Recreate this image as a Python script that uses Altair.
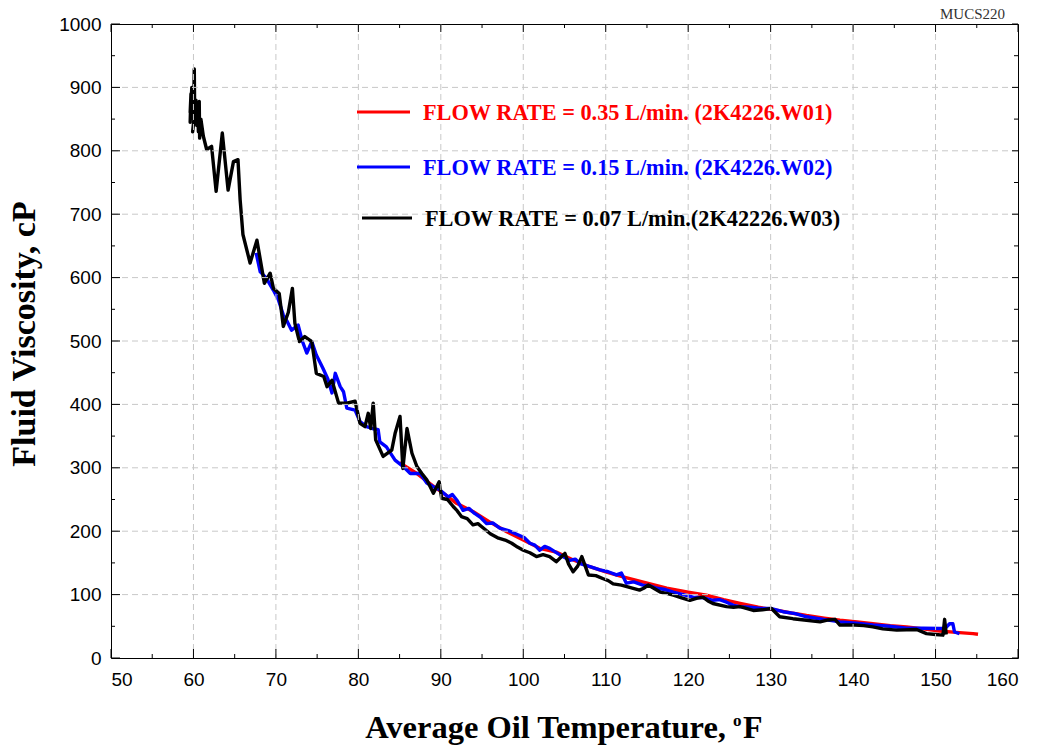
import altair as alt
import pandas as pd

# Viscosity vs. average oil temperature for three flow rates
red_T = [85.0, 87.0, 89.0, 90.5, 91.9, 93.9, 96.0, 98.0, 100.0, 102.0, 104.0, 106.0, 108.05,
         110.0, 112.1, 114.8, 117.4, 120.0, 122.2, 124.3, 126.3, 128.5, 130.5, 132.5, 134.35,
         136.5, 138.4, 140.5, 142.4, 144.5, 146.5, 148.5, 150.5, 152.5, 154.55, 155.15]
red_V = [308, 292, 272, 258, 244, 231, 214, 199, 186, 173, 167, 155, 144,
         136, 128, 119, 110, 104, 99, 92, 86, 80, 76, 71, 67,
         63, 59.5, 57, 54, 51, 49, 46, 42.6, 40.5, 38.5, 37.4]

blue_T = [67.6, 68.1, 68.8, 69.7, 70.3, 70.9, 71.4, 71.9, 72.7, 73.2, 73.75, 74.35, 74.9, 75.4,
          75.7, 76.3, 76.8, 77.2, 77.8, 78.2, 78.6, 79.6, 80.2, 81.0, 81.7, 82.4, 82.6, 83.4,
          84.45, 85.45, 86.3, 87.5, 88.3, 89.1, 89.9, 90.9, 91.4, 92.0, 92.7, 93.4, 94.1, 94.8,
          95.55, 96.3, 97.15, 98.2, 99.4, 100.1, 100.8, 101.4, 102.0, 102.6, 103.2, 104.4,
          105.65, 106.3, 106.9, 108.1, 109.3, 110.3, 111.3, 111.9, 112.5, 113.4, 114.5, 115.3,
          116.2, 117.2, 118.2, 119.4, 120.6, 121.8, 123.0, 123.8, 124.65, 125.5, 126.3, 127.5,
          128.8, 130.1, 131.5, 133.0, 134.35, 136.4, 138.4, 140.4, 142.4, 144.4, 146.5, 148.5,
          150.5, 151.2, 151.7, 152.1, 152.3, 152.9]
blue_V = [639, 609, 600, 580, 565, 541, 530, 517, 525, 500, 481, 499, 478, 465,
          457, 440, 418, 449, 428, 420, 394, 391, 373, 365, 362, 360, 341, 333,
          312, 302, 291, 291, 276, 270, 265, 254, 258, 248, 233, 236, 228, 222,
          212, 213, 205, 201, 194, 190, 181, 178, 170, 176, 173, 163,
          154, 156, 149, 144, 139, 136, 131, 134, 118, 120, 115, 114,
          110, 108, 104, 100, 96, 95, 91, 92, 88, 83, 81, 80,
          78, 78, 73, 70, 65, 61, 57, 55, 52, 50, 47, 47,
          46.5, 47, 54, 54, 41, 38.5]

black_T = [59.6, 59.7, 59.6, 59.8, 60.0, 60.1, 60.15, 59.9, 60.3, 60.4, 60.5, 60.6, 60.7, 60.75,
           60.9, 61.2, 61.6, 62.2, 62.75, 63.5, 64.2, 64.85, 65.4, 65.66, 66.0, 66.87, 67.7,
           68.6, 69.3, 69.7, 70.4, 70.9, 71.5, 72.0, 72.3, 72.85, 73.5, 74.35, 74.9, 75.8,
           76.2, 76.8, 77.6, 78.6, 79.6, 80.2, 80.8, 81.2, 81.5, 81.8, 82.1, 83.0, 84.05,
           84.45, 85.05, 85.4, 85.9, 86.5, 87.1, 87.7, 88.3, 89.1, 89.8, 90.1, 90.8, 91.5,
           92.0, 92.5, 93.2, 93.9, 94.5, 95.15, 96.0, 97.0, 97.8, 98.6, 99.3, 100.0, 100.8,
           101.6, 102.4, 103.2, 104.0, 104.5, 105.05, 105.5, 106.05, 106.6, 107.1, 107.9,
           108.8, 109.7, 110.3, 110.9, 111.9, 113.0, 114.1, 114.6, 115.15, 116.6, 117.4,
           118.2, 119.2, 120.2, 121.0, 121.8, 122.4, 123.0, 124.65, 125.5, 126.3, 127.9,
           129.0, 130.1, 131.1, 132.7, 134.35, 136.0, 137.0, 137.8, 138.4, 140.2, 141.3,
           142.4, 143.6, 145.3, 147.7, 148.9, 150.0, 150.9, 151.1, 151.3]
black_V = [860, 890, 845, 900, 850, 929, 860, 830, 880, 840, 875, 830, 878, 820,
           850, 823, 802, 807, 736, 828, 738, 783, 786, 723, 668, 623, 659,
           591, 607, 583, 575, 523, 545, 583, 528, 499, 507, 499, 449, 444,
           428, 438, 402, 402, 405, 370, 365, 386, 362, 402, 344, 318, 328,
           354, 381, 299, 362, 323, 302, 291, 281, 260, 278, 252, 250, 239,
           232, 223, 220, 210, 212, 205, 196, 189, 186, 181, 175, 170, 166,
           160, 163, 160, 152, 158, 165, 148, 136, 145, 160, 131,
           130, 125, 122, 117, 115, 111, 107, 110, 115, 104, 102,
           99, 95, 91, 94, 96, 90, 86, 81, 80, 81, 75,
           76, 78, 65, 62, 59.5, 57, 60, 61, 52, 52, 51,
           49, 46, 44, 45, 38.5, 37, 36, 61, 37]

series_names = ["0.35", "0.15", "0.07"]
series_colors = ["#ff0000", "#0000ff", "#000000"]
legend_labels = [
    "FLOW RATE = 0.35 L/min. (2K4226.W01)",
    "FLOW RATE = 0.15 L/min. (2K4226.W02)",
    "FLOW RATE = 0.07 L/min.(2K42226.W03)",
]

x_major = list(range(50, 161, 10))
x_minor = list(range(55, 160, 10))
y_major = list(range(0, 1001, 100))
y_minor = list(range(50, 1000, 100))
x_grid = list(range(60, 151, 10))
y_grid = list(range(100, 901, 100))

W, H = 907, 634
SERIF = "Liberation Serif"
SANS = "Liberation Sans"

frames = []
for name, T, V in zip(series_names, [red_T, blue_T, black_T], [red_V, blue_V, black_V]):
    frames.append(pd.DataFrame({"T": T, "V": V, "s": name, "i": range(len(T))}))
curves = pd.concat(frames, ignore_index=True)

xs = alt.Scale(domain=[50, 160], nice=False, zero=False)
ys = alt.Scale(domain=[0, 1000], nice=False, zero=False)

# One shared axis definition per direction, used by every layer
x_axis = alt.Axis(values=x_major, title=None, ticks=False, grid=False, domain=False, format="d",
                  labelFontSize=19, labelFont=SANS, labelColor="black", labelPadding=12)
y_axis = alt.Axis(values=y_major, title=None, ticks=False, grid=False, domain=False, format="d",
                  labelFontSize=19, labelFont=SANS, labelColor="black", labelPadding=10)


def X(field):
    return alt.X(field, scale=xs, axis=x_axis)


def Y(field):
    return alt.Y(field, scale=ys, axis=y_axis)


grid_x = alt.Chart(pd.DataFrame({"v": x_grid})).mark_rule(
    color="#c8c8c8", strokeDash=[6, 4], strokeWidth=1
).encode(x=X("v:Q"))
grid_y = alt.Chart(pd.DataFrame({"v": y_grid})).mark_rule(
    color="#c8c8c8", strokeDash=[6, 4], strokeWidth=1
).encode(y=Y("v:Q"))


def xticks(vals, y0, y1):
    return alt.Chart(pd.DataFrame({"v": vals})).mark_rule(color="black", strokeWidth=1).encode(
        x=X("v:Q"), y=alt.value(y0), y2=alt.value(y1))


def yticks(vals, x0, x1):
    return alt.Chart(pd.DataFrame({"v": vals})).mark_rule(color="black", strokeWidth=1).encode(
        y=Y("v:Q"), x=alt.value(x0), x2=alt.value(x1))


ticks = [
    xticks(x_major, H, H - 9), xticks(x_minor, H, H - 4),
    xticks(x_major, 0, 8), xticks(x_minor, 0, 4),
    yticks(y_major, 0, 9), yticks(y_minor, 0, 4),
    yticks(y_major, W, W - 6), yticks(y_minor, W, W - 4),
]

lines = alt.Chart(curves).mark_line(strokeWidth=3.4, strokeJoin="round").encode(
    x=X("T:Q"),
    y=Y("V:Q"),
    color=alt.Color("s:N", scale=alt.Scale(domain=series_names, range=series_colors), legend=None),
    order=alt.Order("i:Q"),
    detail="s:N",
)

# Legend entries drawn inside the plot
legend_layers = []
legend_rows = [(246, 299, 88, 312), (246, 299, 143, 312), (251, 301, 194, 314)]
for (x0, x1, yy, tx), lab, col in zip(legend_rows, legend_labels, series_colors):
    legend_layers.append(
        alt.Chart(pd.DataFrame({"t": [lab]})).mark_rule(color=col, strokeWidth=3).encode(
            x=alt.value(x0), x2=alt.value(x1), y=alt.value(yy)))
    legend_layers.append(
        alt.Chart(pd.DataFrame({"t": [lab]})).mark_text(
            font=SERIF, fontSize=22.3, fontWeight="bold", color=col, align="left", baseline="middle"
        ).encode(x=alt.value(tx), y=alt.value(yy + 1), text="t:N"))

one = pd.DataFrame({"k": [0]})
texts = [
    alt.Chart(one).mark_text(text="MUCS220", font=SERIF, fontSize=15, color="#333333",
                             align="right", baseline="middle").encode(
        x=alt.value(894), y=alt.value(-10)),
    alt.Chart(one).mark_text(text="Fluid Viscosity, cP", font=SERIF, fontSize=34, fontWeight="bold",
                             color="black", angle=270, align="center", baseline="middle").encode(
        x=alt.value(-86), y=alt.value(310)),
    alt.Chart(one).mark_text(text="Average Oil Temperature,", font=SERIF, fontSize=32.5,
                             fontWeight="bold", color="black", align="right",
                             baseline="alphabetic").encode(x=alt.value(615), y=alt.value(714)),
    alt.Chart(one).mark_text(text="o", font=SERIF, fontSize=17, fontWeight="bold", color="black",
                             align="left", baseline="alphabetic").encode(
        x=alt.value(622), y=alt.value(702)),
    alt.Chart(one).mark_text(text="F", font=SERIF, fontSize=32, fontWeight="bold", color="black",
                             align="left", baseline="alphabetic").encode(
        x=alt.value(632), y=alt.value(714)),
]

chart = alt.layer(lines, grid_x, grid_y, *ticks, *legend_layers, *texts).properties(
    width=W, height=H,
    autosize=alt.AutoSizeParams(type="none"),
    padding={"left": 111, "top": 24, "right": 21, "bottom": 91},
    background="white",
).configure_view(stroke="black", strokeWidth=1)

chart.save("out.html", embed_options={"renderer": "svg", "actions": False})
